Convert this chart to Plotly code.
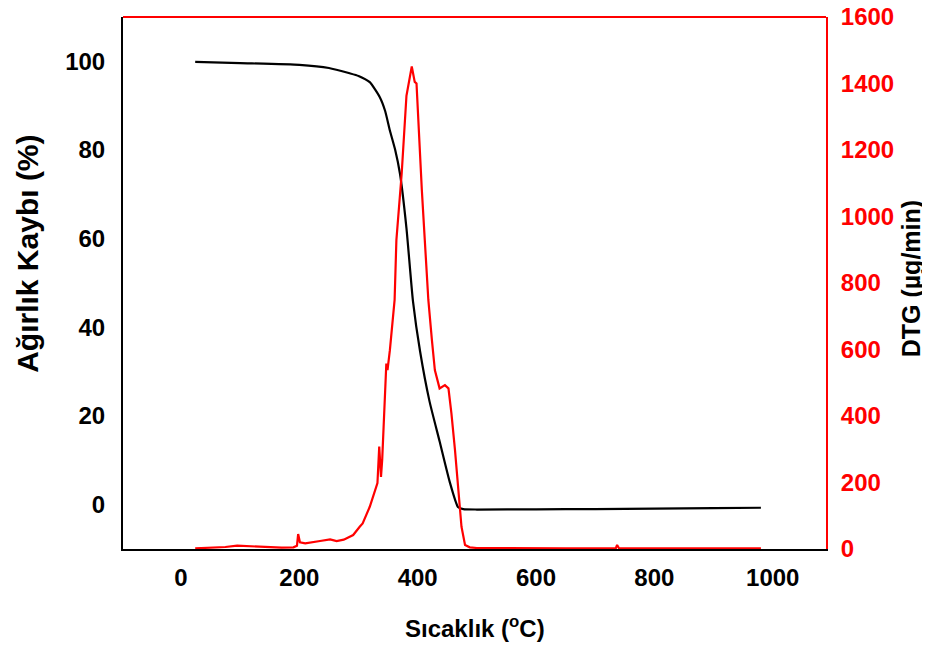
import plotly.graph_objects as go

# TGA (weight %) vs temperature
tga_temp = [24, 100, 200, 250, 285, 300, 319, 336, 345, 353, 362, 370, 381, 392, 404,
            420, 437, 454, 468, 477, 500, 600, 700, 800, 900, 980]
tga_weight = [99.9, 99.6, 99.2, 98.5, 97.3, 96.7, 95.3, 91.9, 88.8, 84.4, 80.0, 74.7, 62.4,
              45.9, 34.6, 23.3, 14.3, 5.2, -0.5, -1.0, -1.1, -1.05, -1.0, -0.9, -0.8, -0.7]

# DTG (µg/min) vs temperature
dtg_temp = [24, 50, 75, 95, 110, 130, 150, 170, 190, 196, 198, 201, 210, 225, 235, 252, 263,
            275, 291, 302, 307, 319, 325, 332, 335, 338, 340, 345, 347, 349, 353, 361, 364,
            373, 381, 390, 395, 398, 401, 407, 412, 418, 424, 429, 437, 446, 452, 457, 463,
            468, 474, 480, 488, 500, 550, 600, 650, 700, 735, 737, 740, 800, 850, 900, 950, 980]
dtg_value = [2, 3, 6, 10, 9, 8, 6, 4, 5, 10, 45, 20, 17, 20, 24, 29, 24,
             28, 42, 67, 77, 127, 157, 198, 308, 217, 268, 448, 558, 538, 598, 749, 929,
             1130, 1363, 1451, 1405, 1400, 1280, 1080, 929, 749, 629, 538, 483, 493, 483, 408, 298,
             187, 67, 12, 5, 3, 2, 3, 2, 2, 3, 12, 3, 2, 3, 2, 2, 2]

x_ticks = [0, 200, 400, 600, 800, 1000]
y_ticks = [0, 20, 40, 60, 80, 100]
y2_ticks = [0, 200, 400, 600, 800, 1000, 1200, 1400, 1600]

x_title = "<b>Sıcaklık (<sup>o</sup>C)</b>"
y_title = "<b>Ağırlık Kaybı (%)</b>"
y2_title = "<b>DTG (µg/min)</b>"

FONT = "Liberation Sans"

fig = go.Figure()
fig.add_trace(go.Scatter(x=tga_temp, y=tga_weight, mode="lines",
                         line=dict(color="black", width=2.2, shape="spline", smoothing=0.5),
                         showlegend=False))
fig.add_trace(go.Scatter(x=dtg_temp, y=dtg_value, mode="lines", yaxis="y2",
                         line=dict(color="#ff0000", width=2.2),
                         showlegend=False))

fig.update_layout(
    width=922, height=638,
    margin=dict(l=115, r=104, t=9, b=97, autoexpand=False),
    paper_bgcolor="white", plot_bgcolor="white",
    font=dict(family=FONT, size=24, color="black"),
    xaxis=dict(range=[-98, 1090], tickvals=x_ticks, showgrid=False, zeroline=False,
               showline=True, linecolor="black", linewidth=2, automargin=False,
               ticks="", ticklabelstandoff=6, ticklabeloverflow="allow",
               tickfont=dict(family=FONT, size=24, color="black", weight="bold")),
    yaxis=dict(range=[-10, 110], tickvals=y_ticks, showgrid=False, zeroline=False,
               showline=True, linecolor="black", linewidth=2, automargin=False,
               ticks="", ticklabelstandoff=11, ticklabeloverflow="allow",
               tickfont=dict(family=FONT, size=24, color="black", weight="bold")),
    yaxis2=dict(range=[0, 1600], tickvals=y2_ticks, overlaying="y", side="right",
                showgrid=False, zeroline=False, automargin=False,
                showline=True, linecolor="#ff0000", linewidth=2,
                ticks="", ticklabelstandoff=8, ticklabeloverflow="allow",
                tickfont=dict(family=FONT, size=24, color="#ff0000", weight="bold")),
    shapes=[dict(type="line", xref="paper", yref="paper", x0=0, x1=1, y0=1, y1=1,
                 line=dict(color="#ff0000", width=2))],
    annotations=[
        dict(text=x_title, xref="paper", yref="paper", x=0.5, y=-0.147,
             xanchor="center", yanchor="middle", showarrow=False,
             font=dict(family=FONT, size=24, color="black")),
        dict(text=y_title, xref="paper", yref="paper", x=-0.135, y=0.555,
             xanchor="center", yanchor="middle", showarrow=False, textangle=-90,
             font=dict(family=FONT, size=30, color="black")),
        dict(text=y2_title, xref="paper", yref="paper", x=1.121, y=0.507,
             xanchor="center", yanchor="middle", showarrow=False, textangle=-90,
             font=dict(family=FONT, size=25, color="black")),
    ],
)

fig.write_html("out.html")
